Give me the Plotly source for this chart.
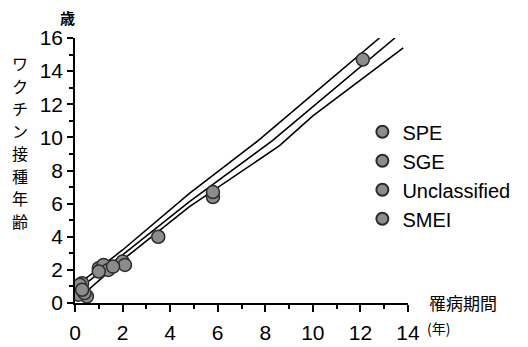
import plotly.graph_objects as go

# ---- data ----
spe_x = [0.1, 0.3, 1.0, 2.0, 12.1]
spe_y = [0.8, 1.2, 2.1, 2.5, 14.7]
sge_x = [0.2, 0.5, 1.2, 3.5]
sge_y = [1.1, 0.4, 2.3, 4.0]
uncl_x = [0.15, 0.4, 1.4, 2.1, 5.8]
uncl_y = [0.5, 0.6, 2.0, 2.3, 6.4]
smei_x = [0.3, 1.6, 1.0, 5.8]
smei_y = [0.8, 2.2, 1.9, 6.7]

# regression line and its band (upper / centre / lower)
upper_x = [0.2, 2.0, 4.8, 7.7, 12.8]
upper_y = [1.2, 3.2, 6.6, 9.8, 16.0]
mid_x = [0.2, 2.0, 4.8, 8.3, 13.45]
mid_y = [0.9, 2.9, 6.1, 9.8, 16.0]
lower_x = [0.4, 2.0, 4.8, 8.6, 10.0, 13.8]
lower_y = [0.6, 2.6, 5.8, 9.5, 11.3, 15.4]

series_names = ["SPE", "SGE", "Unclassified", "SMEI"]
x_ticks = [0, 2, 4, 6, 8, 10, 12, 14]
y_ticks = [0, 2, 4, 6, 8, 10, 12, 14, 16]
y_title_chars = list("ワクチン接種年齢")

NUM_FONT = "Liberation Sans"
CJK_FONT = "Noto Sans CJK JP"

fig = go.Figure()

for lx, ly in [(upper_x, upper_y), (mid_x, mid_y), (lower_x, lower_y)]:
    fig.add_trace(go.Scatter(x=lx, y=ly, mode="lines", showlegend=False,
                             line=dict(color="black", width=1.6), hoverinfo="skip"))

for name, xs, ys in zip(series_names,
                        [spe_x, sge_x, uncl_x, smei_x],
                        [spe_y, sge_y, uncl_y, smei_y]):
    fig.add_trace(go.Scatter(x=xs, y=ys, mode="markers", name=name,
                             marker=dict(size=13, color="#8c8c8c",
                                         line=dict(color="#2b2b2b", width=1.5))))

# page has an 8px body margin, so the figure is shrunk by that amount
OFF = 8
L, R, T, B = 75 - OFF, 120, 38 - OFF, 44
W, H = 528 - OFF, 347 - OFF

fig.update_layout(
    width=W, height=H,
    margin=dict(l=L, r=R, t=T, b=B, autoexpand=False),
    paper_bgcolor="white", plot_bgcolor="white",
    font=dict(family=NUM_FONT, size=21, color="black"),
    legend=dict(x=0.863, xanchor="left", y=0.72, yanchor="top",
                bgcolor="rgba(0,0,0,0)", font=dict(family=NUM_FONT, size=20),
                itemsizing="constant"),
)

fig.update_xaxes(range=[0, 14], tickvals=x_ticks, ticktext=[str(v) for v in x_ticks],
                 automargin=False, ticklabelstandoff=3,
                 showgrid=False, zeroline=False, showline=True, linecolor="black",
                 linewidth=1.5, ticks="outside", ticklen=7, tickwidth=1.5, tickcolor="black",
                 minor=dict(dtick=1, ticks="outside", ticklen=4, tickcolor="black", tickwidth=1.5),
                 tickfont=dict(family=NUM_FONT, size=21))
fig.update_yaxes(range=[0, 16], tickvals=y_ticks, ticktext=[str(v) for v in y_ticks],
                 automargin=False,
                 showgrid=False, zeroline=False, showline=True, linecolor="black",
                 linewidth=1.5, ticks="outside", ticklen=6, tickwidth=1.5, tickcolor="black",
                 minor=dict(dtick=1, ticks="outside", ticklen=4, tickcolor="black", tickwidth=1.5),
                 tickfont=dict(family=NUM_FONT, size=21))

ann = []
ann.append(dict(text="<b>歳</b>", x=67, y=17, showarrow=False,
                font=dict(family=CJK_FONT, size=15)))
for i, ch in enumerate(y_title_chars):
    ann.append(dict(text=ch, x=20, y=63 + i * 22.5, showarrow=False,
                    font=dict(family=CJK_FONT, size=16)))
ann.append(dict(text="罹病期間", x=463, y=302, showarrow=False,
                font=dict(family=CJK_FONT, size=17)))
ann.append(dict(text="(年)", x=438, y=328, showarrow=False,
                font=dict(family=CJK_FONT, size=14)))

# convert screen pixel positions to paper coords
pw, ph = W - L - R, H - T - B
for a in ann:
    a["x"] = (a["x"] - OFF - L) / pw
    a["y"] = (H - B - (a["y"] - OFF)) / ph
    a["xref"] = "paper"
    a["yref"] = "paper"
    a["xanchor"] = "center"
    a["yanchor"] = "middle"
fig.update_layout(annotations=ann)

fig.write_html("out.html")
